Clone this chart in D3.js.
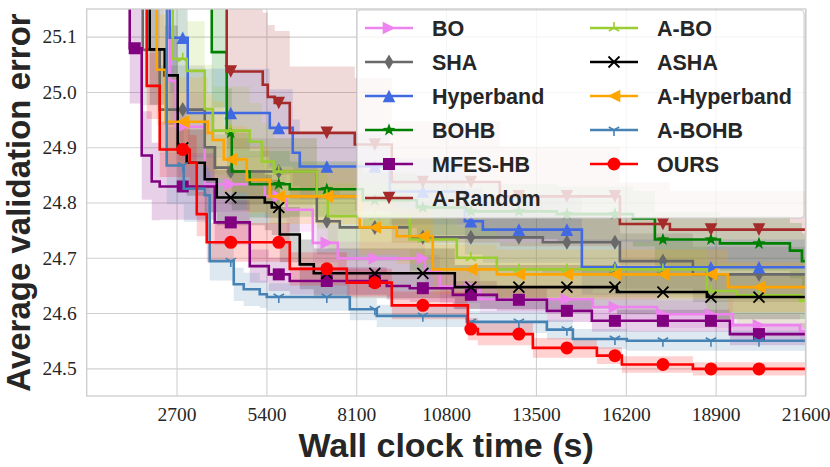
<!DOCTYPE html>
<html><head><meta charset="utf-8">
<script src="https://cdn.jsdelivr.net/npm/d3@7"></script>
<style>body{margin:0;background:#fff}</style></head>
<body><svg id="c" width="830" height="467"></svg>
<script>
// ---- data (times in seconds, values = average validation error) ----
const xTicks = [2700, 5400, 8100, 10800, 13500, 16200, 18900, 21600];
const yTicks = [24.5, 24.6, 24.7, 24.8, 24.9, 25.0, 25.1];

const boT = [0, 2495, 2675, 3547, 5351, 6012, 6794, 7545, 10160, 10611, 11814, 15210, 17134, 19419, 21433];
const boV = [25.5, 25.02, 24.937, 24.833, 24.811, 24.787, 24.727, 24.699, 24.675, 24.648, 24.625, 24.611, 24.598, 24.578, 24.567];
const boSD = [0.1, 0.08, 0.06, 0.05, 0.04, 0.04, 0.035, 0.03, 0.03, 0.03, 0.025, 0.025, 0.025, 0.02, 0.02];

const shaT = [0, 1683, 2194, 3547, 3848, 4268, 6914, 7605, 9709, 13707, 16022, 18216];
const shaV = [25.5, 25.076, 24.968, 24.9, 24.863, 24.856, 24.766, 24.755, 24.737, 24.728, 24.694, 24.67];
const shaSD = [0.12, 0.1, 0.08, 0.07, 0.06, 0.06, 0.06, 0.06, 0.06, 0.055, 0.05, 0.05];

const hbT = [0, 2495, 3036, 5501, 6192, 6403, 9108, 11363, 11904, 14880];
const hbV = [25.5, 25.098, 24.962, 24.935, 24.89, 24.865, 24.82, 24.766, 24.751, 24.683];
const hbSD = [0.12, 0.1, 0.08, 0.07, 0.06, 0.06, 0.06, 0.06, 0.06, 0.05];

const bohbT = [0, 3758, 4208, 4359, 4900, 6102, 8297, 9920, 11423, 14128, 16413, 17074, 19028, 21132, 21493];
const bohbV = [25.5, 25.072, 24.926, 24.856, 24.833, 24.824, 24.804, 24.791, 24.784, 24.779, 24.771, 24.733, 24.726, 24.713, 24.694];
const bohbSD = [0.12, 0.1, 0.08, 0.07, 0.06, 0.05, 0.05, 0.05, 0.05, 0.05, 0.05, 0.05, 0.05, 0.05, 0.05];

const mfesT = [0, 1293, 1653, 1954, 2194, 3848, 4900, 5471, 6102, 9018, 9709, 11002, 12325, 13828, 15180, 19329];
const mfesV = [25.5, 25.079, 24.885, 24.838, 24.829, 24.764, 24.685, 24.67, 24.658, 24.649, 24.645, 24.633, 24.624, 24.604, 24.586, 24.562];
const mfesSD = [0.12, 0.1, 0.08, 0.07, 0.06, 0.04, 0.03, 0.03, 0.025, 0.025, 0.025, 0.025, 0.02, 0.02, 0.02, 0.02];

const arT = [0, 4208, 5291, 5441, 5651, 6102, 8056, 9168, 12415, 16022, 17525];
const arV = [25.5, 25.037, 25.013, 24.991, 24.98, 24.926, 24.905, 24.837, 24.811, 24.761, 24.751];
const arSD = [0.15, 0.14, 0.13, 0.13, 0.13, 0.12, 0.12, 0.11, 0.09, 0.075, 0.07];

const aboT = [0, 2585, 3006, 3547, 3788, 4900, 5261, 5621, 6914, 7244, 9709, 11122, 12325, 18637, 19539, 21433];
const aboV = [25.5, 25.06, 25.038, 24.969, 24.93, 24.91, 24.874, 24.856, 24.813, 24.775, 24.733, 24.70, 24.679, 24.64, 24.632, 24.622];
const aboSD = [0.12, 0.1, 0.09, 0.08, 0.08, 0.07, 0.07, 0.06, 0.06, 0.06, 0.06, 0.055, 0.05, 0.05, 0.05, 0.05];

const ashaT = [0, 1894, 2345, 2735, 3006, 3547, 3908, 5351, 5561, 5802, 6403, 6824, 11062, 15932, 18637];
const ashaV = [25.5, 25.077, 25.03, 24.899, 24.872, 24.842, 24.809, 24.8, 24.791, 24.742, 24.688, 24.672, 24.647, 24.638, 24.629];
const ashaSD = [0.12, 0.1, 0.09, 0.07, 0.06, 0.06, 0.05, 0.05, 0.05, 0.05, 0.045, 0.045, 0.04, 0.04, 0.04];

const ahbT = [0, 2104, 2375, 3637, 3788, 4118, 4810, 5501, 8206, 9319, 10401, 12325, 19268];
const ahbV = [25.5, 25.04, 24.946, 24.926, 24.913, 24.878, 24.841, 24.811, 24.755, 24.739, 24.679, 24.67, 24.647];
const ahbSD = [0.12, 0.1, 0.08, 0.07, 0.07, 0.06, 0.06, 0.05, 0.05, 0.05, 0.045, 0.045, 0.045];

const abohbT = [0, 2405, 2916, 3547, 3697, 4419, 4719, 5200, 5411, 7906, 8717, 11423, 13828, 14609, 16232];
const abohbV = [25.5, 24.867, 24.825, 24.813, 24.694, 24.652, 24.643, 24.634, 24.629, 24.607, 24.595, 24.584, 24.57, 24.553, 24.55];
const abohbSD = [0.12, 0.07, 0.06, 0.05, 0.035, 0.03, 0.03, 0.025, 0.025, 0.02, 0.02, 0.02, 0.018, 0.018, 0.018];

const oursT = [0, 1804, 2194, 3096, 3307, 3607, 6102, 7816, 9168, 11453, 11754, 13407, 15331, 16082, 18216];
const oursV = [25.5, 25.011, 24.896, 24.872, 24.779, 24.728, 24.68, 24.655, 24.614, 24.571, 24.562, 24.537, 24.523, 24.507, 24.499];
const oursSD = [0.1, 0.06, 0.05, 0.05, 0.04, 0.035, 0.03, 0.025, 0.025, 0.02, 0.02, 0.018, 0.015, 0.015, 0.012];

const names = ["BO", "SHA", "Hyperband", "BOHB", "MFES-HB", "A-Random", "A-BO", "ASHA", "A-Hyperband", "A-BOHB", "OURS"];
const timesList = [boT, shaT, hbT, bohbT, mfesT, arT, aboT, ashaT, ahbT, abohbT, oursT];
const valuesList = [boV, shaV, hbV, bohbV, mfesV, arV, aboV, ashaV, ahbV, abohbV, oursV];
const sdList = [boSD, shaSD, hbSD, bohbSD, mfesSD, arSD, aboSD, ashaSD, ahbSD, abohbSD, oursSD];

// ---- styles ----
const colors = ["#EE82EE", "#696969", "#4169E1", "#008000", "#800080", "#A52A2A", "#9ACD32", "#000000", "#FFA500", "#4682B4", "#FF0000"];
const markers = [">", "d", "^", "*", "s", "v", "2", "x", "<", "1", "o"];
const markEvery = 1443;
const T_MAX = 21600;

const svg = d3.select("#c");
const L = 86.7, R = 805.5, T = 9, B = 396;
const x = d3.scaleLinear().domain([0, T_MAX]).range([L, R]);
const y = d3.scaleLinear().domain([24.45, 25.15]).range([B, T]);
const txt = "#262626";

// grid
const gx = svg.append("g").attr("transform", `translate(0,${B})`)
  .call(d3.axisBottom(x).tickValues(xTicks).tickSize(-(B - T)).tickPadding(11.5).tickFormat(d3.format("d")));
gx.select(".domain").remove();
gx.selectAll("line").attr("stroke", "#d0d0d0").attr("stroke-width", 1.1);
gx.selectAll("text").attr("font-family", "Liberation Serif, serif").attr("font-size", 19.5).attr("fill", txt);

const gy = svg.append("g").attr("transform", `translate(${L},0)`)
  .call(d3.axisLeft(y).tickValues(yTicks).tickSize(-(R - L)).tickPadding(10).tickFormat(d3.format(".1f")));
gy.select(".domain").remove();
gy.selectAll("line").attr("stroke", "#d0d0d0").attr("stroke-width", 1.1);
gy.selectAll("text").attr("font-family", "Liberation Serif, serif").attr("font-size", 19.5).attr("fill", txt);

svg.append("defs").append("clipPath").attr("id", "clip")
  .append("rect").attr("x", L).attr("y", T).attr("width", R - L).attr("height", B - T);

const plot = svg.append("g").attr("clip-path", "url(#clip)");

const seriesData = names.map((n, i) => {
  const pts = timesList[i].map((t, j) => ({ t, v: valuesList[i][j], sd: sdList[i][j] }));
  const last = pts[pts.length - 1];
  pts.push({ t: T_MAX, v: last.v, sd: last.sd });
  return pts;
});

function valueAt(pts, t) {
  let v = pts[0].v;
  for (const p of pts) { if (p.t <= t) v = p.v; else break; }
  return v;
}

const area = d3.area().x(d => x(d.t)).y0(d => y(d.v - d.sd)).y1(d => y(d.v + d.sd)).curve(d3.curveStepAfter);
const line = d3.line().x(d => x(d.t)).y(d => y(d.v)).curve(d3.curveStepAfter);

seriesData.forEach((pts, i) => {
  plot.append("path").attr("d", area(pts)).attr("fill", colors[i]).attr("fill-opacity", 0.18).attr("stroke", "none");
});

function drawMarker(g, type, cx, cy, color) {
  const s = 6.3;
  const P = pts => "M" + pts.map(p => (cx + p[0]) + "," + (cy + p[1])).join("L") + "Z";
  switch (type) {
    case "o": g.append("circle").attr("cx", cx).attr("cy", cy).attr("r", 6.5).attr("fill", color); break;
    case "s": g.append("rect").attr("x", cx - 6).attr("y", cy - 6).attr("width", 12).attr("height", 12).attr("fill", color); break;
    case "^": g.append("path").attr("d", P([[0, -s], [-s, s], [s, s]])).attr("fill", color); break;
    case "v": g.append("path").attr("d", P([[0, s], [-s, -s], [s, -s]])).attr("fill", color); break;
    case ">": g.append("path").attr("d", P([[s, 0], [-s, -s], [-s, s]])).attr("fill", color); break;
    case "<": g.append("path").attr("d", P([[-s, 0], [s, -s], [s, s]])).attr("fill", color); break;
    case "d": g.append("path").attr("d", P([[0, -7.5], [4.5, 0], [0, 7.5], [-4.5, 0]])).attr("fill", color); break;
    case "*": {
      const p = [];
      for (let k = 0; k < 10; k++) {
        const r = k % 2 === 0 ? 6.8 : 2.8;
        const a = -Math.PI / 2 + k * Math.PI / 5;
        p.push([r * Math.cos(a), r * Math.sin(a)]);
      }
      g.append("path").attr("d", P(p)).attr("fill", color); break;
    }
    case "x":
      g.append("path").attr("d", `M${cx - 5.5},${cy - 5.5}L${cx + 5.5},${cy + 5.5}M${cx - 5.5},${cy + 5.5}L${cx + 5.5},${cy - 5.5}`)
        .attr("stroke", color).attr("stroke-width", 1.8).attr("fill", "none"); break;
    case "2": case "1": {
      const sgn = type === "2" ? 1 : -1;
      const r = 6;
      g.append("path").attr("d", `M${cx},${cy}L${cx},${cy - sgn * r}M${cx},${cy}L${cx - 0.866 * r},${cy + sgn * 0.5 * r}M${cx},${cy}L${cx + 0.866 * r},${cy + sgn * 0.5 * r}`)
        .attr("stroke", color).attr("stroke-width", 1.6).attr("fill", "none"); break;
    }
  }
}

seriesData.forEach((pts, i) => {
  const g = plot.append("g");
  g.append("path").attr("d", line(pts)).attr("fill", "none").attr("stroke", colors[i]).attr("stroke-width", 2.6);
  for (let t = markEvery; t < T_MAX; t += markEvery) {
    const v = valueAt(pts, t);
    if (v > 25.2) continue;
    drawMarker(g, markers[i], x(t), y(v), colors[i]);
  }
});

// frame
svg.append("rect").attr("x", L).attr("y", T).attr("width", R - L).attr("height", B - T)
  .attr("fill", "none").attr("stroke", "#cccccc").attr("stroke-width", 1.3);

// legend
const lg = svg.append("g");
lg.append("rect").attr("x", 357).attr("y", 10).attr("width", 447).attr("height", 208).attr("rx", 4)
  .attr("fill", "#ffffff").attr("fill-opacity", 0.8).attr("stroke", "#cccccc").attr("stroke-width", 1.1);
names.forEach((n, i) => {
  const col = i < 6 ? 0 : 1;
  const row = i < 6 ? i : i - 6;
  const hx = col === 0 ? 365 : 590;
  const cy = 28 + row * 34;
  lg.append("line").attr("x1", hx).attr("x2", hx + 48).attr("y1", cy).attr("y2", cy)
    .attr("stroke", colors[i]).attr("stroke-width", 2.6);
  drawMarker(lg, markers[i], hx + 24, cy, colors[i]);
  lg.append("text").attr("x", hx + 67).attr("y", cy).attr("dy", "0.36em")
    .attr("font-family", "Liberation Sans, Arial, sans-serif").attr("font-weight", "bold")
    .attr("font-size", 21.5).attr("fill", txt).text(n);
});

// axis titles
svg.append("text").attr("x", (L + R) / 2).attr("y", 457).attr("text-anchor", "middle")
  .attr("font-family", "Liberation Sans, Arial, sans-serif").attr("font-weight", "bold")
  .attr("font-size", 34).attr("fill", txt).text("Wall clock time (s)");
svg.append("text").attr("transform", `translate(30,${(T + B) / 2}) rotate(-90)`).attr("text-anchor", "middle")
  .attr("font-family", "Liberation Sans, Arial, sans-serif").attr("font-weight", "bold")
  .attr("font-size", 33).attr("fill", txt).text("Average validation error");
</script>
</body></html>
